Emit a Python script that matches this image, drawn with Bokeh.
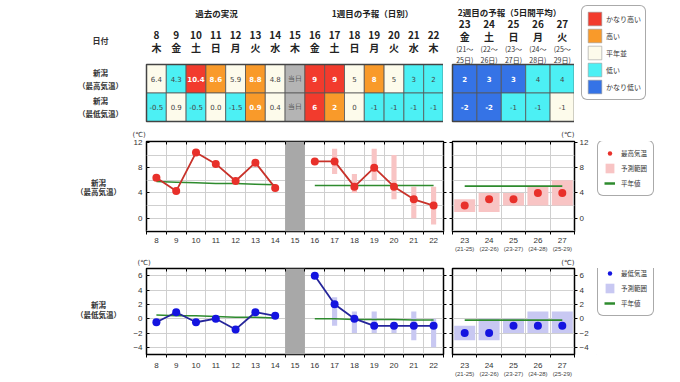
import numpy as np
from bokeh.plotting import figure
from bokeh.models import (Range1d, FixedTicker, LinearAxis, Legend,
                          LegendItem, Grid, ColumnDataSource)
from bokeh.layouts import column, row
from bokeh.embed import file_html
from bokeh.resources import INLINE
from bokeh.core.properties import value

JP = "Noto Sans CJK JP"
NUM = "DejaVu Sans"
TICKF = "Liberation Sans"
NaN = float("nan")

# ---------------- data ----------------
days_w1 = [8, 9, 10, 11, 12, 13, 14, 15, 16, 17, 18, 19, 20, 21, 22]
weekdays_w1 = ["木", "金", "土", "日", "月", "火", "水", "木", "金", "土", "日", "月", "火", "水", "木"]
today = 15
days_w2 = [23, 24, 25, 26, 27]
weekdays_w2 = ["金", "土", "日", "月", "火"]
period_start = [21, 22, 23, 24, 25]
period_end = [25, 26, 27, 28, 29]

obs_days = [8, 9, 10, 11, 12, 13, 14]
obs_max = [6.4, 4.3, 10.4, 8.6, 5.9, 8.8, 4.8]
obs_min = [-0.5, 0.9, -0.5, 0.0, -1.5, 0.9, 0.4]
obs_max_class = ["normal", "low", "vhigh", "high", "normal", "high", "normal"]
obs_min_class = ["low", "normal", "low", "normal", "low", "high", "normal"]
obs_normal_max = [5.8, 5.7, 5.6, 5.5, 5.5, 5.4, 5.3]
obs_normal_min = [0.5, 0.4, 0.4, 0.3, 0.2, 0.2, 0.1]

fc1_days = [16, 17, 18, 19, 20, 21, 22]
fc1_max = [9, 9, 5, 8, 5, 3, 2]
fc1_max_low = [NaN, 7, 4, 6, 3, 0, -1]
fc1_max_high = [NaN, 11, 7, 11, 10, 5, 5]
fc1_max_class = ["vhigh", "vhigh", "normal", "high", "normal", "low", "low"]
fc1_min = [6, 2, 0, -1, -1, -1, -1]
fc1_min_low = [NaN, -1, -2, -2, -2, -3, -4]
fc1_min_high = [NaN, 3, 1, 1, -1, 1, 0]
fc1_min_class = ["vhigh", "high", "normal", "low", "low", "low", "low"]
fc1_normal_max = [5.2, 5.2, 5.2, 5.2, 5.2, 5.2, 5.2]
fc1_normal_min = [0.0, 0.0, -0.1, -0.1, -0.1, -0.2, -0.2]

fc2_max = [2, 3, 3, 4, 4]
fc2_max_low = [1, 1, 2, 2, 2]
fc2_max_high = [3, 4, 4, 5, 6]
fc2_max_class = ["vlow", "vlow", "vlow", "low", "low"]
fc2_min = [-2, -2, -1, -1, -1]
fc2_min_low = [-3, -3, -2, -2, -2]
fc2_min_high = [-1, 0, 0, 1, 1]
fc2_min_class = ["vlow", "vlow", "low", "low", "normal"]
fc2_normal_max = [5.1, 5.1, 5.1, 5.1, 5.1]
fc2_normal_min = [-0.2, -0.2, -0.2, -0.2, -0.2]

class_keys = ["vhigh", "high", "normal", "low", "vlow"]
class_labels = ["かなり高い", "高い", "平年並", "低い", "かなり低い"]

# ---------------- styles ----------------
class_colors = {"vhigh": "#f23b2d", "high": "#f99a2a", "normal": "#fdfbeb",
                "low": "#4cf0f4", "vlow": "#3573e6", "today": "#b4b4b4"}
text_colors = {"vhigh": "white", "high": "white", "normal": "#444",
               "low": "#444", "vlow": "white", "today": "#555"}
GREEN = "#2e8b2e"
MAX_LINE, MAX_MARK, MAX_RANGE = "#c8322a", "#e8302a", "#f8c4c4"
MIN_LINE, MIN_MARK, MIN_RANGE = "#25259a", "#1414e0", "#c8c8f2"
GRIDC = "#cfcfcf"

W1 = 19.8   # px per day column (week 1)
W2 = 24.4   # px per column (week 2)
RH = 28.5   # px per table row


def px1(px):
    return 7.5 + (px - 146) / W1


def px2(px):
    return 22.5 + (px - 452) / W2


def pyt(py):
    return 1.5 + (64 - py) / RH


def base_fig(w, h, xr, yr, **kw):
    p = figure(width=w, height=h, x_range=xr, y_range=yr, x_axis_type=None,
               y_axis_type=None, toolbar_location=None, output_backend="svg", **kw)
    p.background_fill_color = "white"
    p.border_fill_color = "white"
    return p


def jp_text(p, xs, ys, txts, size, bold=False, color="#222"):
    p.text(x=xs, y=ys, text=txts, text_font=value(JP), text_font_size=size,
           text_font_style="bold" if bold else "normal", text_color=color,
           text_align="center", text_baseline="middle")


def table_source(entries):
    d = dict(x=[], y=[], fill=[], label=[], tcol=[], fst=[])
    for x, y, cls, lab in entries:
        d["x"].append(x)
        d["y"].append(y)
        d["fill"].append(class_colors[cls])
        d["label"].append(lab)
        d["tcol"].append(text_colors[cls])
        d["fst"].append("bold" if text_colors[cls] == "white" else "normal")
    return ColumnDataSource(d)


def draw_cells(p, src, days):
    p.rect(x="x", y="y", width=1, height=1, fill_color="fill", line_color="#555",
           line_width=0.8, source=src)
    p.text(x="x", y="y", text="label", text_color="tcol", text_font_style="fst",
           text_font=value(NUM), text_font_size="7px", text_align="center",
           text_baseline="middle", source=src)
    p.rect(x=[float(np.mean(days))], y=[0.5], width=[len(days)], height=[2],
           fill_color=None, line_color="#444", line_width=1.5)


# ---------------- table: week 1 ----------------
e1 = []
for d, v, c in zip(obs_days, obs_max, obs_max_class):
    e1.append((d, 1, c, f"{v:.1f}"))
for d, v, c in zip(obs_days, obs_min, obs_min_class):
    e1.append((d, 0, c, f"{v:.1f}"))
e1.append((today, 1, "today", "当日"))
e1.append((today, 0, "today", "当日"))
for d, v, c in zip(fc1_days, fc1_max, fc1_max_class):
    e1.append((d, 1, c, f"{v:d}"))
for d, v, c in zip(fc1_days, fc1_min, fc1_min_class):
    e1.append((d, 0, c, f"{v:d}"))

t1 = base_fig(443, 125, Range1d(px1(0), px1(443)), Range1d(pyt(125), pyt(0)), min_border=0)
t1.outline_line_color = None
draw_cells(t1, table_source(e1), days_w1)
jp_text(t1, days_w1, [pyt(34)] * len(days_w1), [str(d) for d in days_w1], "10px", True, "#222")
jp_text(t1, days_w1, [pyt(47)] * len(days_w1), weekdays_w1, "10px", True, "#222")
jp_text(t1, [px1(216), px1(372)], [pyt(12)] * 2, ["過去の実況", "1週目の予報（日別）"], "8.5px", True, "#222")
jp_text(t1, [px1(100)], [pyt(40)], ["日付"], "8px", True, "#333")
jp_text(t1, [px1(100)] * 4, [pyt(72), pyt(85), pyt(100), pyt(113)],
        ["新潟", "（最高気温）", "新潟", "（最低気温）"], "7.5px", True, "#333")

# ---------------- table: week 2 ----------------
e2 = []
for d, v, c in zip(days_w2, fc2_max, fc2_max_class):
    e2.append((d, 1, c, f"{v:d}"))
for d, v, c in zip(days_w2, fc2_min, fc2_min_class):
    e2.append((d, 0, c, f"{v:d}"))
t2 = base_fig(131, 125, Range1d(px2(443), px2(574)), Range1d(pyt(125), pyt(0)), min_border=0)
t2.outline_line_color = None
draw_cells(t2, table_source(e2), days_w2)
jp_text(t2, [px2(509)], [pyt(11)], ["2週目の予報（5日間平均）"], "8.5px", True, "#222")
jp_text(t2, days_w2, [pyt(23)] * 5, [str(d) for d in days_w2], "10px", True, "#222")
jp_text(t2, days_w2, [pyt(35.5)] * 5, weekdays_w2, "10px", True, "#222")
jp_text(t2, days_w2, [pyt(48)] * 5, [f"({s}～" for s in period_start], "7px", False, "#333")
jp_text(t2, days_w2, [pyt(59)] * 5, [f"{e}日)" for e in period_end], "7px", False, "#333")

# ---------------- class legend ----------------
t3 = base_fig(106, 125, Range1d(0, 1), Range1d(0, 1), min_border=0)
t3.outline_line_color = None
items = []
for k, lab in zip(class_keys, class_labels):
    # placeholder glyph kept outside the visible range: only its legend swatch shows
    r = t3.rect(x=[-5], y=[-5], width=1, height=1, fill_color=class_colors[k],
                line_color="#9a9a9a", line_width=0.6)
    items.append(LegendItem(label=lab, renderers=[r]))
leg = Legend(items=items, location=(7, 25), margin=0, padding=4, spacing=0,
             glyph_width=17, glyph_height=17, label_height=17, label_standoff=3,
             label_text_font=JP, label_text_font_size="7px", label_text_color="#333",
             border_line_color="#555", border_line_width=1.2,
             background_fill_color="white", background_fill_alpha=1.0)
try:
    leg.border_radius = 6
except Exception:
    pass
t3.add_layout(leg)


# ---------------- charts ----------------
def style_frame(p):
    p.outline_line_color = "black"
    p.outline_line_width = 1.5


def style_unit_title(p, align, offset, standoff):
    p.title.align = align
    p.title.offset = offset
    p.title.standoff = standoff
    p.title.text_font = "DejaVu Sans"
    p.title.text_font_size = "7px"
    p.title.text_font_style = "normal"
    p.title.text_color = "#333"


def row_label(h, name2, y_name, y_name2):
    q = base_fig(124, h, Range1d(0, 124), Range1d(h, 0), min_border=0)
    q.outline_line_color = None
    jp_text(q, [98, 98], [y_name, y_name2], ["新潟", name2], "7.5px", True, "#333")
    return q


def week1_chart(h, top, bottom, yr, yticks, ygrid, obs_vals, obs_norm, fc_vals,
                fc_lo, fc_hi, fc_norm, lc, mc, rc, unit_off, unit_standoff, xstand):
    p = base_fig(325, h, Range1d(7.5, 22.5), Range1d(*yr), min_border_left=22,
                 min_border_right=6, min_border_top=top, min_border_bottom=bottom,
                 title="(℃)")
    style_frame(p)
    style_unit_title(p, "left", unit_off, unit_standoff)
    bounds = [d - 0.5 for d in days_w1] + [days_w1[-1] + 0.5]
    p.add_layout(Grid(dimension=0, ticker=FixedTicker(ticks=bounds), grid_line_color=GRIDC))
    p.add_layout(Grid(dimension=1, ticker=FixedTicker(ticks=ygrid), grid_line_color=GRIDC))
    p.vbar(x=[today], width=1, bottom=yr[0], top=yr[1], fill_color="#a8a8a8", line_color=None)
    p.vbar(x=fc1_days, width=0.26, bottom=np.array(fc_lo, dtype=float),
           top=np.array(fc_hi, dtype=float), fill_color=rc, line_color=None)
    p.line(obs_days, obs_norm, line_color=GREEN, line_width=1.5)
    p.line(fc1_days, fc_norm, line_color=GREEN, line_width=1.5)
    p.line(obs_days, obs_vals, line_color=lc, line_width=1.8)
    p.line(fc1_days, fc_vals, line_color=lc, line_width=1.8)
    p.scatter(obs_days, obs_vals, size=8, fill_color=mc, line_color=None)
    p.scatter(fc1_days, fc_vals, size=8, fill_color=mc, line_color=None)

    xb = LinearAxis(ticker=FixedTicker(ticks=days_w1, minor_ticks=bounds),
                    major_tick_out=0, major_tick_in=0, minor_tick_out=3, minor_tick_in=0,
                    axis_line_color=None, major_label_standoff=xstand,
                    major_label_text_font_size="8px", major_label_text_font=TICKF,
                    major_label_text_color="#333")
    p.add_layout(xb, "below")
    xt = LinearAxis(ticker=FixedTicker(ticks=[], minor_ticks=bounds), major_tick_out=0,
                    major_tick_in=0, minor_tick_out=0, minor_tick_in=3, axis_line_color=None,
                    major_label_standoff=0)
    p.add_layout(xt, "above")
    yl = LinearAxis(ticker=FixedTicker(ticks=yticks), major_tick_out=0, major_tick_in=3,
                    axis_line_color=None, major_label_standoff=4,
                    major_label_text_font_size="8px", major_label_text_font=TICKF,
                    major_label_text_color="#333")
    p.add_layout(yl, "left")
    yrt = LinearAxis(ticker=FixedTicker(ticks=yticks), major_tick_out=3, major_tick_in=0,
                     axis_line_color=None, major_label_standoff=0,
                     major_label_overrides={t: "" for t in yticks})
    p.add_layout(yrt, "right")
    return p


def week2_chart(h, top, bottom, yr, yticks, ygrid, vals, lo, hi, norm, mc, rc,
                unit_standoff, xstand):
    p = base_fig(147, h, Range1d(22.5, 27.5), Range1d(*yr), min_border_left=3,
                 min_border_right=22, min_border_top=top, min_border_bottom=bottom,
                 title="(℃)")
    style_frame(p)
    style_unit_title(p, "right", 0, unit_standoff)
    bounds = [d - 0.5 for d in days_w2] + [days_w2[-1] + 0.5]
    p.add_layout(Grid(dimension=0, ticker=FixedTicker(ticks=bounds), grid_line_color=GRIDC))
    p.add_layout(Grid(dimension=1, ticker=FixedTicker(ticks=ygrid), grid_line_color=GRIDC))
    p.vbar(x=days_w2, width=0.86, bottom=lo, top=hi, fill_color=rc, line_color=None)
    p.line(days_w2, norm, line_color=GREEN, line_width=1.8)
    p.scatter(days_w2, vals, size=8, fill_color=mc, line_color=None)

    xb = LinearAxis(ticker=FixedTicker(ticks=days_w2, minor_ticks=bounds),
                    major_tick_out=0, major_tick_in=0, minor_tick_out=3, minor_tick_in=0,
                    axis_line_color=None, major_label_standoff=xstand,
                    major_label_text_font_size="8px", major_label_text_font=TICKF,
                    major_label_text_color="#333")
    p.add_layout(xb, "below")
    xb2 = LinearAxis(ticker=FixedTicker(ticks=days_w2), major_tick_out=0, major_tick_in=0,
                     minor_tick_out=0, minor_tick_in=0, axis_line_color=None,
                     major_label_standoff=0, major_label_text_font_size="6px",
                     major_label_text_font=TICKF, major_label_text_color="#444",
                     major_label_overrides={d: f"({s}-{e})" for d, s, e in
                                            zip(days_w2, period_start, period_end)})
    p.add_layout(xb2, "below")
    xt = LinearAxis(ticker=FixedTicker(ticks=[], minor_ticks=bounds), major_tick_out=0,
                    major_tick_in=0, minor_tick_out=0, minor_tick_in=3, axis_line_color=None,
                    major_label_standoff=0)
    p.add_layout(xt, "above")
    yl = LinearAxis(ticker=FixedTicker(ticks=yticks), major_tick_out=3, major_tick_in=0,
                    axis_line_color=None, major_label_standoff=0,
                    major_label_overrides={t: "" for t in yticks})
    p.add_layout(yl, "left")
    yrt = LinearAxis(ticker=FixedTicker(ticks=yticks), major_tick_out=3, major_tick_in=0,
                     axis_line_color=None, major_label_standoff=2,
                     major_label_text_font_size="8px", major_label_text_font=TICKF,
                     major_label_text_color="#333")
    p.add_layout(yrt, "right")
    return p


def chart_legend(h, mc, rc, name, bottom_px):
    q = base_fig(84, h, Range1d(0, 1), Range1d(0, 1), min_border=0)
    q.outline_line_color = None
    # placeholder glyphs kept outside the visible range: only their swatches show
    r1 = q.scatter(x=[-5], y=[-5], size=5, fill_color=mc, line_color=None)
    r2 = q.vbar(x=[-5], top=[-5], width=1, fill_color=rc, line_color=None)
    r3 = q.line(x=[-5, -4], y=[-5, -5], line_color=GREEN, line_width=2.5)
    lg = Legend(items=[LegendItem(label=name, renderers=[r1]),
                       LegendItem(label="予測範囲", renderers=[r2]),
                       LegendItem(label="平年値", renderers=[r3])],
                location=(1, bottom_px), margin=0, padding=6, spacing=3,
                glyph_width=11, glyph_height=12, label_height=12, label_standoff=6,
                label_text_font=JP, label_text_font_size="6.5px", label_text_color="#333",
                border_line_color="#555", border_line_width=1.2,
                background_fill_color="white", background_fill_alpha=1.0)
    try:
        lg.border_radius = 6
    except Exception:
        pass
    q.add_layout(lg)
    return q


HB, HC = 129, 128
b0 = row_label(HB, "（最高気温）", 59, 72)
c1 = week1_chart(HB, 16, 23, (-2.1, 12.15), [0, 4, 8, 12], [-2, 0, 2, 4, 6, 8, 10, 12],
                 obs_max, obs_normal_max, fc1_max, fc1_max_low, fc1_max_high, fc1_normal_max,
                 MAX_LINE, MAX_MARK, MAX_RANGE, -14, 5, 3)
c2 = week2_chart(HB, 16, 23, (-2.1, 12.15), [0, 4, 8, 12], [-2, 0, 2, 4, 6, 8, 10, 12],
                 fc2_max, fc2_max_low, fc2_max_high, fc2_normal_max, MAX_MARK, MAX_RANGE, 5, 3)
l1 = chart_legend(HB, MAX_MARK, MAX_RANGE, "最高気温", 35)

e0 = row_label(HC, "（最低気温）", 54, 68)
d1 = week1_chart(HC, 13, 28, (-5, 7), [-4, -2, 0, 2, 4, 6], [-4, -2, 0, 2, 4, 6],
                 obs_min, obs_normal_min, fc1_min, fc1_min_low, fc1_min_high, fc1_normal_min,
                 MIN_LINE, MIN_MARK, MIN_RANGE, -9, 4, 5)
d2 = week2_chart(HC, 13, 28, (-5, 7), [-4, -2, 0, 2, 4, 6], [-4, -2, 0, 2, 4, 6],
                 fc2_min, fc2_min_low, fc2_min_high, fc2_normal_min, MIN_MARK, MIN_RANGE, 4, 5)
l2 = chart_legend(HC, MIN_MARK, MIN_RANGE, "最低気温", 38)

layout = column(row(t1, t2, t3), row(b0, c1, c2, l1), row(e0, d1, d2, l2))
open("out.html", "w").write(file_html(layout, INLINE))
